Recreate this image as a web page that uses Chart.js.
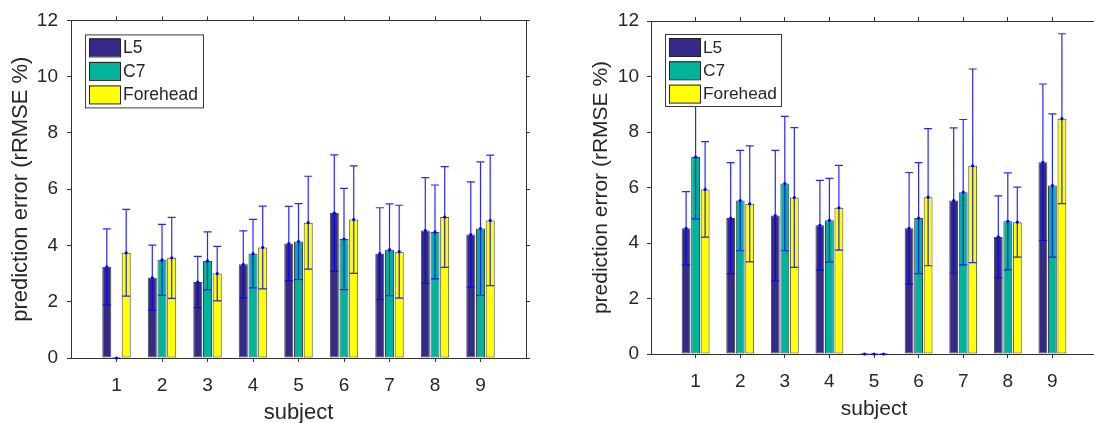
<!DOCTYPE html>
<html>
<head>
<meta charset="utf-8">
<script src="https://cdn.jsdelivr.net/npm/chart.js@4"></script>
<style>
  html, body { margin: 0; padding: 0; background: #fff; overflow: hidden; }
  .wrap { position: absolute; top: 0; }
</style>
</head>
<body>
<div class="wrap" style="left:0px; width:540px; height:423px"><canvas id="leftChart" width="540" height="423"></canvas></div>
<div class="wrap" style="left:540px; width:560px; height:423px"><canvas id="rightChart" width="560" height="423"></canvas></div>
<script>
// данные
const subjects = ['1', '2', '3', '4', '5', '6', '7', '8', '9'];
const seriesNames = ['L5', 'C7', 'Forehead'];
const seriesColors = ['#352a87', '#00b49c', '#ffff00'];
const yTicks = [0, 2, 4, 6, 8, 10, 12];

// левый график
const leftL5 = [3.24, 2.85, 2.70, 3.33, 4.07, 5.15, 3.71, 4.53, 4.39];
const leftL5Sd = [1.35, 1.16, 0.91, 1.19, 1.32, 2.07, 1.63, 1.88, 1.87];
const leftC7 = [0, 3.49, 3.45, 3.71, 4.14, 4.23, 3.85, 4.48, 4.60];
const leftC7Sd = [0, 1.26, 1.03, 1.22, 1.35, 1.80, 1.63, 1.67, 2.37];
const leftFh = [3.74, 3.56, 3.00, 3.93, 4.81, 4.92, 3.78, 5.01, 4.89];
const leftFhSd = [1.54, 1.44, 0.97, 1.47, 1.65, 1.91, 1.65, 1.79, 2.32];

// правый график
const rightL5 = [4.53, 4.90, 4.99, 4.64, 0, 4.53, 5.53, 4.22, 6.91];
const rightL5Sd = [1.32, 2.00, 2.35, 1.62, 0, 2.01, 2.62, 1.48, 2.82];
const rightC7 = [7.10, 5.53, 6.14, 4.82, 0, 4.90, 5.83, 4.78, 6.07];
const rightC7Sd = [2.23, 1.81, 2.42, 1.51, 0, 2.00, 2.62, 1.75, 2.58];
const rightFh = [5.93, 5.41, 5.64, 5.27, 0, 5.65, 6.78, 4.75, 8.48];
const rightFhSd = [1.72, 2.09, 2.52, 1.53, 0, 2.47, 3.49, 1.26, 3.06];

const FONT = "'Liberation Sans', Arial, sans-serif";
const TEXT = '#262626';
const AXIS = '#333333';

Chart.defaults.font.family = FONT;
Chart.defaults.color = TEXT;

// пустые категории по краям, чтобы ось шла от 0 до 10
const paddedLabels = [''].concat(subjects, ['']);
const pad = arr => [null].concat(arr, [null]);

// планки погрешностей как в MATLAB errorbar
const errorBarPlugin = {
    id: 'errorBars',
    afterDatasetsDraw(chart) {
        const ctx = chart.ctx;
        const yScale = chart.scales.y;
        ctx.save();
        ctx.strokeStyle = 'rgba(0,0,255,0.85)';
        ctx.fillStyle = '#0000ff';
        ctx.lineWidth = 1.2;
        chart.data.datasets.forEach((ds, i) => {
            const meta = chart.getDatasetMeta(i);
            ds.data.forEach((v, j) => {
                if (v === null) return;
                const x = meta.data[j].x;
                const sd = ds.errors[j];
                const yT = yScale.getPixelForValue(v + sd);
                const yB = yScale.getPixelForValue(v - sd);
                ctx.beginPath();
                ctx.moveTo(x, yT); ctx.lineTo(x, yB);
                ctx.moveTo(x - 4, yT); ctx.lineTo(x + 4, yT);
                ctx.moveTo(x - 4, yB); ctx.lineTo(x + 4, yB);
                ctx.stroke();
                ctx.beginPath();
                ctx.arc(x, yScale.getPixelForValue(v), 1.6, 0, Math.PI * 2);
                ctx.fill();
            });
        });
        ctx.restore();
    }
};

// легенда внутри области графика, в левом верхнем углу
const boxLegendPlugin = {
    id: 'boxLegend',
    afterDraw(chart, args, opts) {
        const ctx = chart.ctx;
        const a = chart.chartArea;
        const x0 = a.left + opts.dx, y0 = a.top + opts.dy;
        ctx.save();
        ctx.fillStyle = '#fff';
        ctx.fillRect(x0, y0, opts.w, opts.h);
        ctx.strokeStyle = '#3c3c3c';
        ctx.lineWidth = 1;
        ctx.strokeRect(x0 + 0.5, y0 + 0.5, opts.w, opts.h);
        ctx.font = opts.fontSize + 'px ' + FONT;
        ctx.textBaseline = 'middle';
        ctx.textAlign = 'left';
        chart.data.datasets.forEach((ds, i) => {
            const sy = y0 + 4 + i * opts.row;
            ctx.fillStyle = ds.backgroundColor;
            ctx.fillRect(x0 + 4, sy, 31, 18);
            ctx.strokeStyle = '#222';
            ctx.strokeRect(x0 + 4.5, sy + 0.5, 31, 18);
            ctx.fillStyle = TEXT;
            ctx.fillText(ds.label, x0 + 38, sy + 10);
        });
        ctx.restore();
    }
};

function makeChart(id, values, errors, L) {
    const ctx = document.getElementById(id);
    const tickCol = c => (c.tick && c.tick.label === '') ? 'rgba(0,0,0,0)' : AXIS;
    const hidden = { display: false };
    // без лишних отступов по краям горизонтальных осей
    const fitX = h => s => { s.height = h; s.paddingLeft = 0; s.paddingRight = 0; };

    return new Chart(ctx, {
        type: 'bar',
        data: {
            labels: paddedLabels,
            datasets: seriesNames.map((name, i) => ({
                label: name,
                data: pad(values[i]),
                errors: pad(errors[i]),
                backgroundColor: seriesColors[i],
                borderColor: 'rgba(35,35,35,0.85)',
                borderWidth: 1,
                borderSkipped: false,
                categoryPercentage: 0.64,
                barPercentage: 0.93
            }))
        },
        options: {
            responsive: false,
            animation: false,
            devicePixelRatio: 1,
            layout: { padding: { left: L.padLeft, top: 0, right: 0, bottom: 0 } },
            plugins: {
                legend: hidden,
                tooltip: { enabled: false },
                boxLegend: L.legend
            },
            scales: {
                x: {
                    type: 'category',
                    position: 'bottom',
                    offset: false,
                    grid: { offset: false, drawOnChartArea: false, tickLength: 4, tickColor: tickCol },
                    border: { color: AXIS },
                    ticks: { font: { size: 19 }, color: TEXT, padding: 12, autoSkip: false, maxRotation: 0 },
                    title: {
                        display: true, text: 'subject', color: TEXT,
                        font: { size: L.titleSize, lineHeight: L.xTitleLH },
                        padding: { top: 0, bottom: L.xTitlePad }
                    },
                    afterFit: fitX(L.bottomH)
                },
                x2: {
                    type: 'category',
                    position: 'top',
                    labels: paddedLabels,
                    offset: false,
                    grid: { offset: false, drawOnChartArea: false, tickLength: 4, tickColor: tickCol },
                    border: { color: AXIS },
                    ticks: { display: false },
                    afterFit: fitX(L.topH)
                },
                y: {
                    position: 'left',
                    min: yTicks[0],
                    max: yTicks[yTicks.length - 1],
                    grid: { drawOnChartArea: false, tickLength: 4, tickColor: AXIS },
                    border: { color: AXIS },
                    afterBuildTicks: s => { s.ticks = yTicks.map(v => ({ value: v })); },
                    ticks: { font: { size: 19 }, color: TEXT, padding: L.yTickPad },
                    title: {
                        display: true, text: 'prediction error (rRMSE %)', color: TEXT,
                        font: { size: L.titleSize, lineHeight: 1 },
                        padding: { top: L.yTitlePad, bottom: 0 }
                    },
                    afterFit: s => { s.width = 65; }
                },
                y2: {
                    position: 'right',
                    min: yTicks[0],
                    max: yTicks[yTicks.length - 1],
                    grid: { drawOnChartArea: false, tickLength: 4, tickColor: AXIS },
                    border: { color: AXIS },
                    afterBuildTicks: s => { s.ticks = yTicks.map(v => ({ value: v })); },
                    ticks: { display: false },
                    afterFit: s => { s.width = L.rightW; }
                }
            }
        },
        plugins: [errorBarPlugin, boxLegendPlugin]
    });
}

makeChart('leftChart',
    [leftL5, leftC7, leftFh],
    [leftL5Sd, leftC7Sd, leftFhSd],
    {
        padLeft: 6, bottomH: 65, topH: 17, rightW: 14,
        titleSize: 22, xTitleLH: 0.9, xTitlePad: 0.3, yTitlePad: 4, yTickPad: 9,
        legend: { dx: 14, dy: 14, w: 118, h: 73, row: 23.5, fontSize: 17.5 }
    });

makeChart('rightChart',
    [rightL5, rightC7, rightFh],
    [rightL5Sd, rightC7Sd, rightFhSd],
    {
        padLeft: 46, bottomH: 69, topH: 21, rightW: 3,
        titleSize: 21, xTitleLH: 1, xTitlePad: 3.7, yTitlePad: 4.5, yTickPad: 8,
        legend: { dx: 14, dy: 13, w: 116, h: 72, row: 23.3, fontSize: 17.3 }
    });
</script>
</body>
</html>
